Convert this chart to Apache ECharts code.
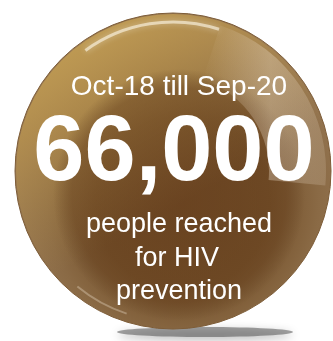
<!DOCTYPE html>
<html>
<head>
<meta charset="utf-8">
<script src="https://cdn.jsdelivr.net/npm/echarts@6/dist/echarts.min.js"></script>
<style>
html,body{margin:0;padding:0;background:#fff;}
#chart{width:333px;height:341px;}
</style>
</head>
<body>
<div id="chart"></div>
<script>
// Data
const periodLabel = ["Oct-18 till Sep-20"];
const headlineValues = [66000];
const captionLines = ["people reached", "for HIV", "prevention"];

function fmt(n){ return n.toLocaleString('en-US'); }

const chart = echarts.init(document.getElementById('chart'), null, {renderer:'canvas'});
const cx = 173, cy = 171, R = 158;
const font = '"Liberation Sans", Arial, Helvetica, sans-serif';

const graphics = [
  // shadow below
  {type:'ellipse', shape:{cx:205, cy:332, rx:88, ry:5}, z:0,
   style:{fill:'rgba(70,70,70,0.5)', shadowColor:'rgba(0,0,0,0.55)', shadowBlur:10, shadowOffsetY:3}},
  // base sphere
  {type:'circle', shape:{cx:cx, cy:cy, r:R}, z:1,
   style:{fill:new echarts.graphic.RadialGradient(0.53,0.6,0.55,[
     {offset:0, color:'#6c4622'},
     {offset:0.5, color:'#74502a'},
     {offset:0.78, color:'#8a6a45'},
     {offset:1, color:'#957652'}
   ]), stroke:'#7d5c37', lineWidth:1}},
  // top-left gold glow
  {type:'circle', shape:{cx:cx, cy:cy, r:R-1}, z:2,
   style:{fill:new echarts.graphic.LinearGradient(0.15,0.0,0.5,0.62,[
     {offset:0, color:'rgba(200,163,85,0.98)'},
     {offset:0.4, color:'rgba(188,150,78,0.7)'},
     {offset:1, color:'rgba(180,145,80,0)'}
   ])}},
  // inner dish dark
  {type:'circle', shape:{cx:cx+6, cy:cy+24, r:126}, z:3,
   style:{fill:new echarts.graphic.RadialGradient(0.5,0.5,0.5,[
     {offset:0, color:'rgba(105,66,32,0.6)'},
     {offset:0.85, color:'rgba(100,62,28,0.45)'},
     {offset:1, color:'rgba(90,58,28,0)'}
   ])}},
  // right side light band
  {type:'sector', shape:{cx:cx, cy:cy, r:R-5, r0:R-62, startAngle:-Math.PI*0.4, endAngle:Math.PI*0.03}, z:4,
   style:{fill:new echarts.graphic.LinearGradient(0,0,1,0,[
     {offset:0, color:'rgba(235,220,200,0)'},
     {offset:0.55, color:'rgba(235,220,200,0.35)'},
     {offset:1, color:'rgba(235,220,200,0.18)'}
   ])}},
  // top gleam
  {type:'arc', shape:{cx:cx, cy:cy, r:R-9, startAngle:-Math.PI*0.7, endAngle:-Math.PI*0.4}, z:5,
   style:{stroke:'rgba(255,250,235,0.6)', lineWidth:3, fill:null, shadowColor:'rgba(255,255,255,0.7)', shadowBlur:6}},
  // bottom-left gleam
  {type:'arc', shape:{cx:cx, cy:cy, r:R-8, startAngle:Math.PI*0.6, endAngle:Math.PI*0.72}, z:5,
   style:{stroke:'rgba(255,245,230,0.3)', lineWidth:2, fill:null}},
  // texts
  {type:'text', z:10, x:179, y:101, style:{text:periodLabel[0], fill:'#fff', font:'28px '+font, textAlign:'center', textVerticalAlign:'bottom'}},
  {type:'text', z:10, x:174, y:201, style:{text:fmt(headlineValues[0]), fill:'#fff', font:'bold 92px '+font, textAlign:'center', textVerticalAlign:'bottom'}},
  {type:'text', z:10, x:179, y:238, style:{text:captionLines[0], fill:'#fff', font:'27px '+font, textAlign:'center', textVerticalAlign:'bottom'}},
  {type:'text', z:10, x:177, y:272, style:{text:captionLines[1], fill:'#fff', font:'27px '+font, textAlign:'center', textVerticalAlign:'bottom'}},
  {type:'text', z:10, x:179, y:305, style:{text:captionLines[2], fill:'#fff', font:'27px '+font, textAlign:'center', textVerticalAlign:'bottom'}}
];

chart.setOption({animation:false, graphic:graphics});
</script>
</body>
</html>
